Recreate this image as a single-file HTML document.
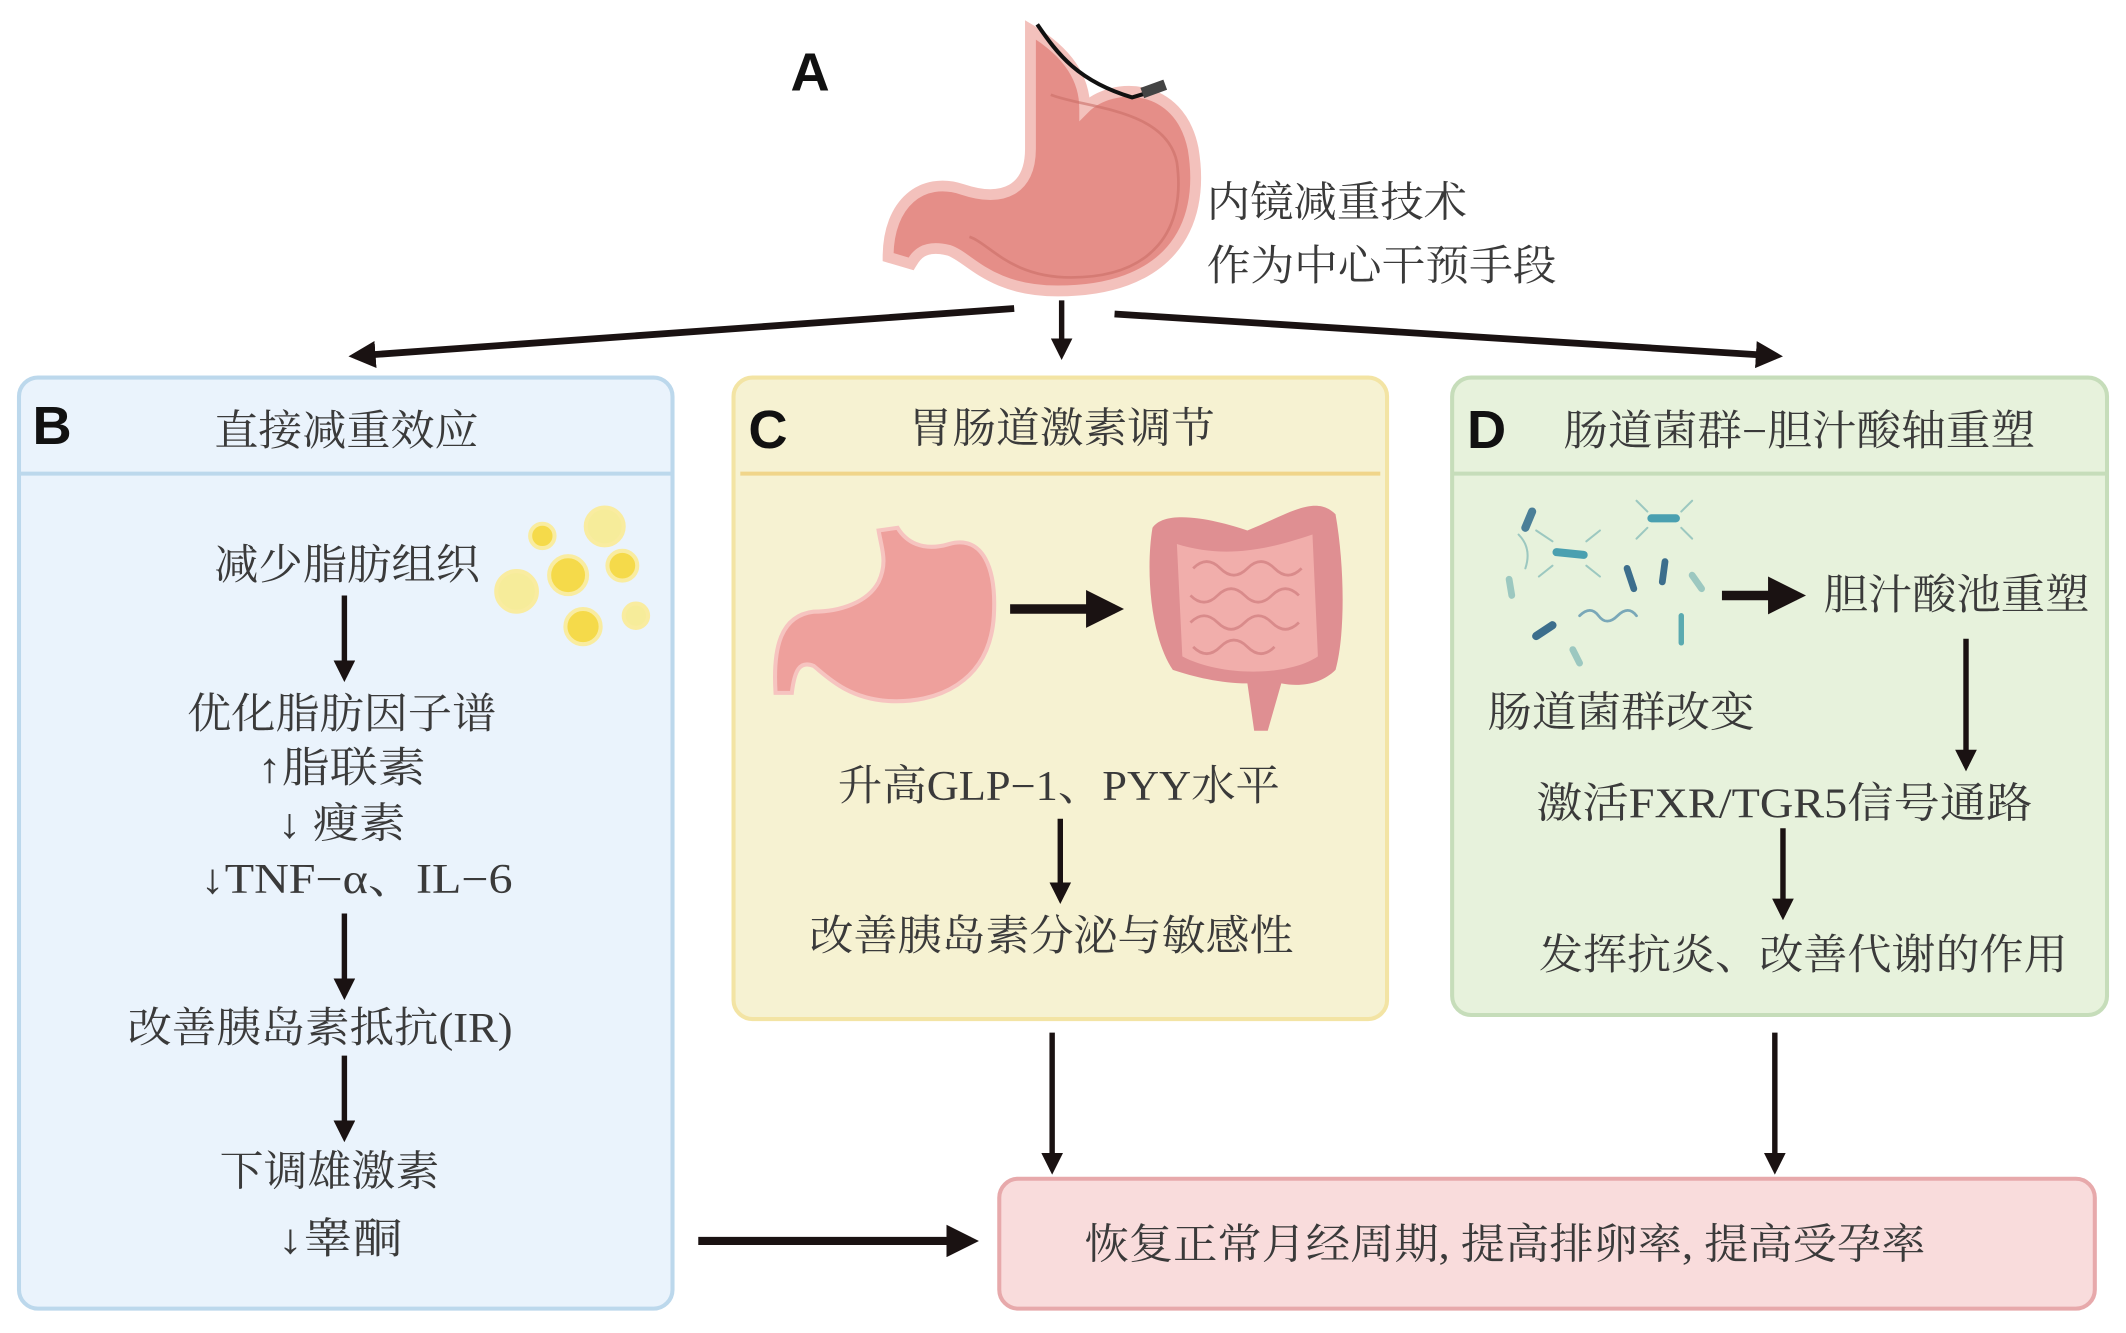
<!DOCTYPE html>
<html><head><meta charset="utf-8"><style>
html,body{margin:0;padding:0;background:#fff;}
svg{display:block;}
text{font-family:"Liberation Serif","Noto Serif CJK SC",serif;fill:#3a3a3a;}
.lbl{font-family:"Liberation Sans","Noto Sans CJK SC",sans-serif;font-weight:bold;fill:#111;}
</style></head><body>
<svg width="2126" height="1333" viewBox="0 0 1568 985" preserveAspectRatio="none" xmlns="http://www.w3.org/2000/svg">
<defs>
<marker id="ah" markerWidth="4" markerHeight="4" refX="3" refY="2" orient="auto" markerUnits="strokeWidth"><path d="M0,0 L4,2 L0,4 z" fill="#1a1212"/></marker>
</defs>
<rect width="1568" height="985" fill="#fff"/>

<!-- A stomach -->
<text class="lbl" x="583" y="67" font-size="40">A</text>
<path d="M760,22 C790,40 800,60 800,80 C820,60 870,60 880,110 C890,170 860,215 780,215 C730,215 715,190 700,185 C680,180 675,190 672,195 L655,190 C655,150 680,130 710,140 C740,150 760,140 760,110 Z" fill="#e58e88" stroke="#f3c1bc" stroke-width="8"/>
<path d="M775,70 C800,80 860,80 868,120 C875,170 850,205 790,205 C745,205 730,180 715,175" fill="none" stroke="#c96e68" stroke-width="2" opacity="0.6"/>
<path d="M765,18 C780,40 795,60 835,72 L855,66" fill="none" stroke="#111" stroke-width="3"/>
<rect x="842" y="62" width="18" height="8" fill="#444" transform="rotate(-20 850 66)"/>
<text x="890" y="160" font-size="31" textLength="192" lengthAdjust="spacingAndGlyphs">内镜减重技术</text>
<text x="890" y="207" font-size="31" textLength="258" lengthAdjust="spacingAndGlyphs">作为中心干预手段</text>

<!-- top arrows -->
<line x1="748" y1="228" x2="262" y2="263" stroke="#1a1212" stroke-width="5" marker-end="url(#ah)"/>
<line x1="783" y1="222" x2="783" y2="262" stroke="#1a1212" stroke-width="4" marker-end="url(#ah)"/>
<line x1="822" y1="232" x2="1310" y2="263" stroke="#1a1212" stroke-width="5" marker-end="url(#ah)"/>

<!-- Box B -->
<rect x="14" y="279" width="482" height="688" rx="14" fill="#eaf3fc" stroke="#bcd8ec" stroke-width="3"/>
<line x1="14" y1="350" x2="496" y2="350" stroke="#bcd8ec" stroke-width="3"/>
<text class="lbl" x="24" y="328" font-size="40">B</text>
<text x="158" y="329" font-size="31" textLength="195" lengthAdjust="spacingAndGlyphs">直接减重效应</text>
<text x="158" y="428" font-size="31" textLength="196" lengthAdjust="spacingAndGlyphs">减少脂肪组织</text>
<g fill="#f5da4a" stroke="#f9eca0" stroke-width="3">
<circle cx="381" cy="437" r="15" fill="#f6ec9a"/><circle cx="400" cy="396" r="9"/><circle cx="446" cy="389" r="14" fill="#f6ec9a"/>
<circle cx="419" cy="425" r="14"/><circle cx="459" cy="418" r="11"/><circle cx="430" cy="463" r="13"/><circle cx="469" cy="455" r="9" fill="#f6ec9a"/>
</g>
<line x1="254" y1="440" x2="254" y2="500" stroke="#1a1212" stroke-width="4" marker-end="url(#ah)"/>
<text x="138" y="538" font-size="31" textLength="228" lengthAdjust="spacingAndGlyphs">优化脂肪因子谱</text>
<text x="190" y="578" font-size="31" textLength="124" lengthAdjust="spacingAndGlyphs">↑脂联素</text>
<text x="205" y="619" font-size="31" textLength="94" lengthAdjust="spacingAndGlyphs">↓ 瘦素</text>
<text x="148" y="660" font-size="31" textLength="230" lengthAdjust="spacingAndGlyphs">↓TNF−α、IL−6</text>
<line x1="254" y1="675" x2="254" y2="735" stroke="#1a1212" stroke-width="4" marker-end="url(#ah)"/>
<text x="94" y="770" font-size="31" textLength="284" lengthAdjust="spacingAndGlyphs">改善胰岛素抵抗(IR)</text>
<line x1="254" y1="780" x2="254" y2="840" stroke="#1a1212" stroke-width="4" marker-end="url(#ah)"/>
<text x="162" y="876" font-size="31" textLength="162" lengthAdjust="spacingAndGlyphs">下调雄激素</text>
<text x="205" y="926" font-size="31" textLength="92" lengthAdjust="spacingAndGlyphs">↓睾酮</text>

<!-- Box C -->
<rect x="541" y="279" width="482" height="474" rx="14" fill="#f6f2d2" stroke="#f3e4a4" stroke-width="3"/>
<line x1="546" y1="350" x2="1018" y2="350" stroke="#f0d58a" stroke-width="3"/>
<text class="lbl" x="552" y="331" font-size="40">C</text>
<text x="670" y="327" font-size="31" textLength="226" lengthAdjust="spacingAndGlyphs">胃肠道激素调节</text>
<path d="M648,392 L662,390 C668,400 680,408 700,402 C725,395 735,420 733,455 C730,505 690,520 655,518 C625,516 610,500 600,492 C590,488 586,495 584,512 L572,512 C570,480 575,455 600,452 C620,452 640,445 648,430 C655,415 650,405 648,392 Z" fill="#eea09c" stroke="#f6c4c0" stroke-width="3"/>
<line x1="745" y1="450" x2="822" y2="450" stroke="#1a1212" stroke-width="7" marker-end="url(#ah)"/>
<path d="M850,390 C860,375 900,385 920,392 C950,380 970,365 985,380 C992,420 992,470 985,495 C975,505 960,508 945,505 L935,540 L925,540 L920,505 C900,505 880,500 865,495 C848,470 845,420 850,390 Z" fill="#df8f92"/>
<path d="M868,402 C900,412 930,408 968,395 L972,485 C950,500 900,500 872,485 Z" fill="#f1aeab"/>
<g fill="none" stroke="#d98b8b" stroke-width="2">
<path d="M880,420 q10,-10 20,0 t20,0 t20,0 t20,0"/><path d="M878,440 q10,10 20,0 t20,0 t20,0 t20,0"/><path d="M878,460 q10,-10 20,0 t20,0 t20,0 t20,0"/><path d="M880,478 q10,10 20,0 t20,0 t20,0"/>
</g>
<text x="618" y="591" font-size="31" textLength="326" lengthAdjust="spacingAndGlyphs">升高GLP−1、PYY水平</text>
<line x1="782" y1="605" x2="782" y2="664" stroke="#1a1212" stroke-width="4" marker-end="url(#ah)"/>
<text x="597" y="702" font-size="31" textLength="357" lengthAdjust="spacingAndGlyphs">改善胰岛素分泌与敏感性</text>

<!-- Box D -->
<rect x="1071" y="279" width="483" height="471" rx="14" fill="#e7f2dc" stroke="#c6ddba" stroke-width="3"/>
<line x1="1071" y1="350" x2="1554" y2="350" stroke="#c6ddba" stroke-width="3"/>
<text class="lbl" x="1082" y="331" font-size="40">D</text>
<text x="1153" y="329" font-size="31" textLength="348" lengthAdjust="spacingAndGlyphs">肠道菌群−胆汁酸轴重塑</text>
<g stroke-linecap="round" fill="none">
<line x1="1125" y1="390" x2="1130" y2="378" stroke="#4b7f98" stroke-width="6"/>
<line x1="1148" y1="408" x2="1168" y2="410" stroke="#4aa0b0" stroke-width="6"/>
<line x1="1218" y1="383" x2="1236" y2="383" stroke="#4aa0b0" stroke-width="6"/>
<line x1="1200" y1="420" x2="1205" y2="435" stroke="#3c6e8c" stroke-width="5"/>
<line x1="1228" y1="415" x2="1226" y2="430" stroke="#3c6e8c" stroke-width="5"/>
<line x1="1133" y1="470" x2="1145" y2="462" stroke="#3c6e8c" stroke-width="6"/>
<line x1="1113" y1="428" x2="1115" y2="440" stroke="#9cc8c0" stroke-width="5"/>
<line x1="1160" y1="480" x2="1165" y2="490" stroke="#9cc8c0" stroke-width="5"/>
<line x1="1240" y1="455" x2="1240" y2="475" stroke="#5aaab0" stroke-width="4"/>
<line x1="1248" y1="425" x2="1255" y2="435" stroke="#9cc8c0" stroke-width="5"/>
<path d="M1165,455 q8,-8 14,0 t14,0 t14,0" stroke="#7aa8b8" stroke-width="2"/>
<path d="M1120,395 q10,10 5,25" stroke="#9cc8c0" stroke-width="1.5"/>
<path d="M1145,400 l-12,-8 M1170,400 l10,-8 M1145,418 l-10,8 M1170,418 l10,8 M1215,378 l-8,-8 M1240,378 l8,-8 M1215,390 l-8,8 M1240,390 l8,8" stroke="#9cc8c0" stroke-width="1.5"/>
</g>
<line x1="1270" y1="440" x2="1325" y2="440" stroke="#1a1212" stroke-width="7" marker-end="url(#ah)"/>
<text x="1345" y="450" font-size="31" textLength="196" lengthAdjust="spacingAndGlyphs">胆汁酸池重塑</text>
<text x="1097" y="537" font-size="31" textLength="197" lengthAdjust="spacingAndGlyphs">肠道菌群改变</text>
<line x1="1450" y1="472" x2="1450" y2="566" stroke="#1a1212" stroke-width="4" marker-end="url(#ah)"/>
<text x="1133" y="604" font-size="31" textLength="366" lengthAdjust="spacingAndGlyphs">激活FXR/TGR5信号通路</text>
<line x1="1315" y1="612" x2="1315" y2="676" stroke="#1a1212" stroke-width="4" marker-end="url(#ah)"/>
<text x="1135" y="716" font-size="31" textLength="390" lengthAdjust="spacingAndGlyphs">发挥抗炎、改善代谢的作用</text>

<!-- bottom arrows -->
<line x1="776" y1="763" x2="776" y2="864" stroke="#1a1212" stroke-width="4" marker-end="url(#ah)"/>
<line x1="1309" y1="763" x2="1309" y2="864" stroke="#1a1212" stroke-width="4" marker-end="url(#ah)"/>
<line x1="515" y1="917" x2="716" y2="917" stroke="#1a1212" stroke-width="6" marker-end="url(#ah)"/>

<!-- Bottom box -->
<rect x="737" y="871" width="808" height="96" rx="14" fill="#f9dcdc" stroke="#e7a9ab" stroke-width="3"/>
<text x="800" y="930" font-size="31" textLength="620" lengthAdjust="spacingAndGlyphs">恢复正常月经周期, 提高排卵率, 提高受孕率</text>
</svg>
</body></html>
